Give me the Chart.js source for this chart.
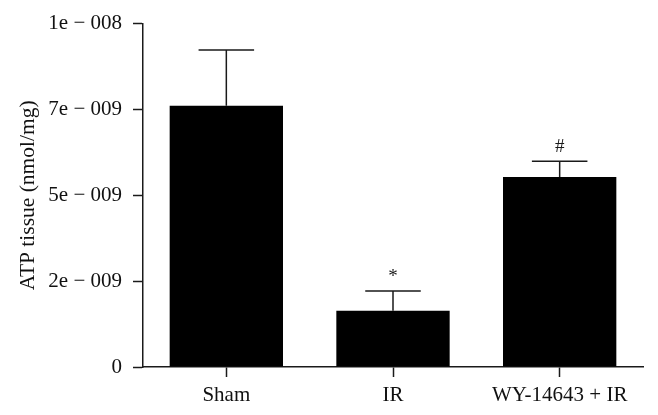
<!DOCTYPE html>
<html>
<head>
<meta charset="utf-8">
<script src="https://cdn.jsdelivr.net/npm/chart.js@4/dist/chart.umd.min.js"></script>
<style>
html,body{margin:0;padding:0;background:#fff}
#wrap{width:658px;height:415px}
</style>
</head>
<body>
<div id="wrap"><canvas id="grafico"></canvas></div>
<script>

let grupos=['Sham','IR','WY-14643 + IR']
let medias=[7.61e-9,1.64e-9,5.53e-9]
let erros=[1.62e-9,0.57e-9,0.46e-9]
let marcas=['','*','#']
let ticksValores=[0,2.5e-9,5e-9,7.5e-9,1e-8]
let ticksTextos=['0','2e \u2212 009','5e \u2212 009','7e \u2212 009','1e \u2212 008']

let fonte='"Liberation Serif", "DejaVu Serif", serif'

let barrasErro={
id:'barrasErro',
afterDatasetsDraw(chart){
let ctx=chart.ctx
let y=chart.scales.y
let meta=chart.getDatasetMeta(0)
ctx.save()
ctx.strokeStyle='#1a1a1a'
ctx.lineWidth=1.5
ctx.fillStyle='#1a1a1a'
ctx.font='19px '+fonte
ctx.textAlign='center'
ctx.textBaseline='alphabetic'
meta.data.forEach((bar,i)=>{
let topo=y.getPixelForValue(medias[i]+erros[i])
let base=y.getPixelForValue(medias[i])
let meia=bar.width*0.245
ctx.beginPath()
ctx.moveTo(bar.x,base)
ctx.lineTo(bar.x,topo)
ctx.moveTo(bar.x-meia,topo)
ctx.lineTo(bar.x+meia,topo)
ctx.stroke()
if(marcas[i]){
ctx.fillText(marcas[i],bar.x,topo-9)
}
})
ctx.restore()
}
}

let ctx=document.getElementById('grafico')

new Chart(ctx,{
type:'bar',
data:{
labels:grupos,
datasets:[{
data:medias,
backgroundColor:'#000',
borderWidth:0,
barPercentage:0.68,
categoryPercentage:1
}]
},
options:{
responsive:true,
maintainAspectRatio:false,
animation:false,
layout:{
padding:{top:22,right:15,left:0,bottom:0}
},
plugins:{
legend:{display:false},
tooltip:{enabled:false}
},
scales:{
x:{
grid:{
display:true,
drawOnChartArea:false,
offset:false,
tickLength:10,
tickWidth:1.5,
tickColor:'#1a1a1a'
},
border:{color:'#1a1a1a',width:1.5},
ticks:{
color:'#111',
padding:6,
font:{family:fonte,size:21}
},
afterFit(s){s.height=48}
},
y:{
min:0,
max:1e-8,
afterBuildTicks(s){
s.ticks=ticksValores.map(v=>({value:v}))
},
grid:{
display:true,
drawOnChartArea:false,
tickLength:10,
tickWidth:1.5,
tickColor:'#1a1a1a'
},
border:{color:'#1a1a1a',width:1.5},
ticks:{
color:'#111',
padding:11,
font:{family:fonte,size:21},
callback(v,i){return ticksTextos[i]}
},
title:{
display:true,
text:'ATP tissue (nmol/mg)',
color:'#111',
font:{family:fonte,size:21.5},
padding:{top:15,bottom:0}
},
afterFit(s){s.width=143}
}
}
},
plugins:[barrasErro]
})

</script>
</body>
</html>
